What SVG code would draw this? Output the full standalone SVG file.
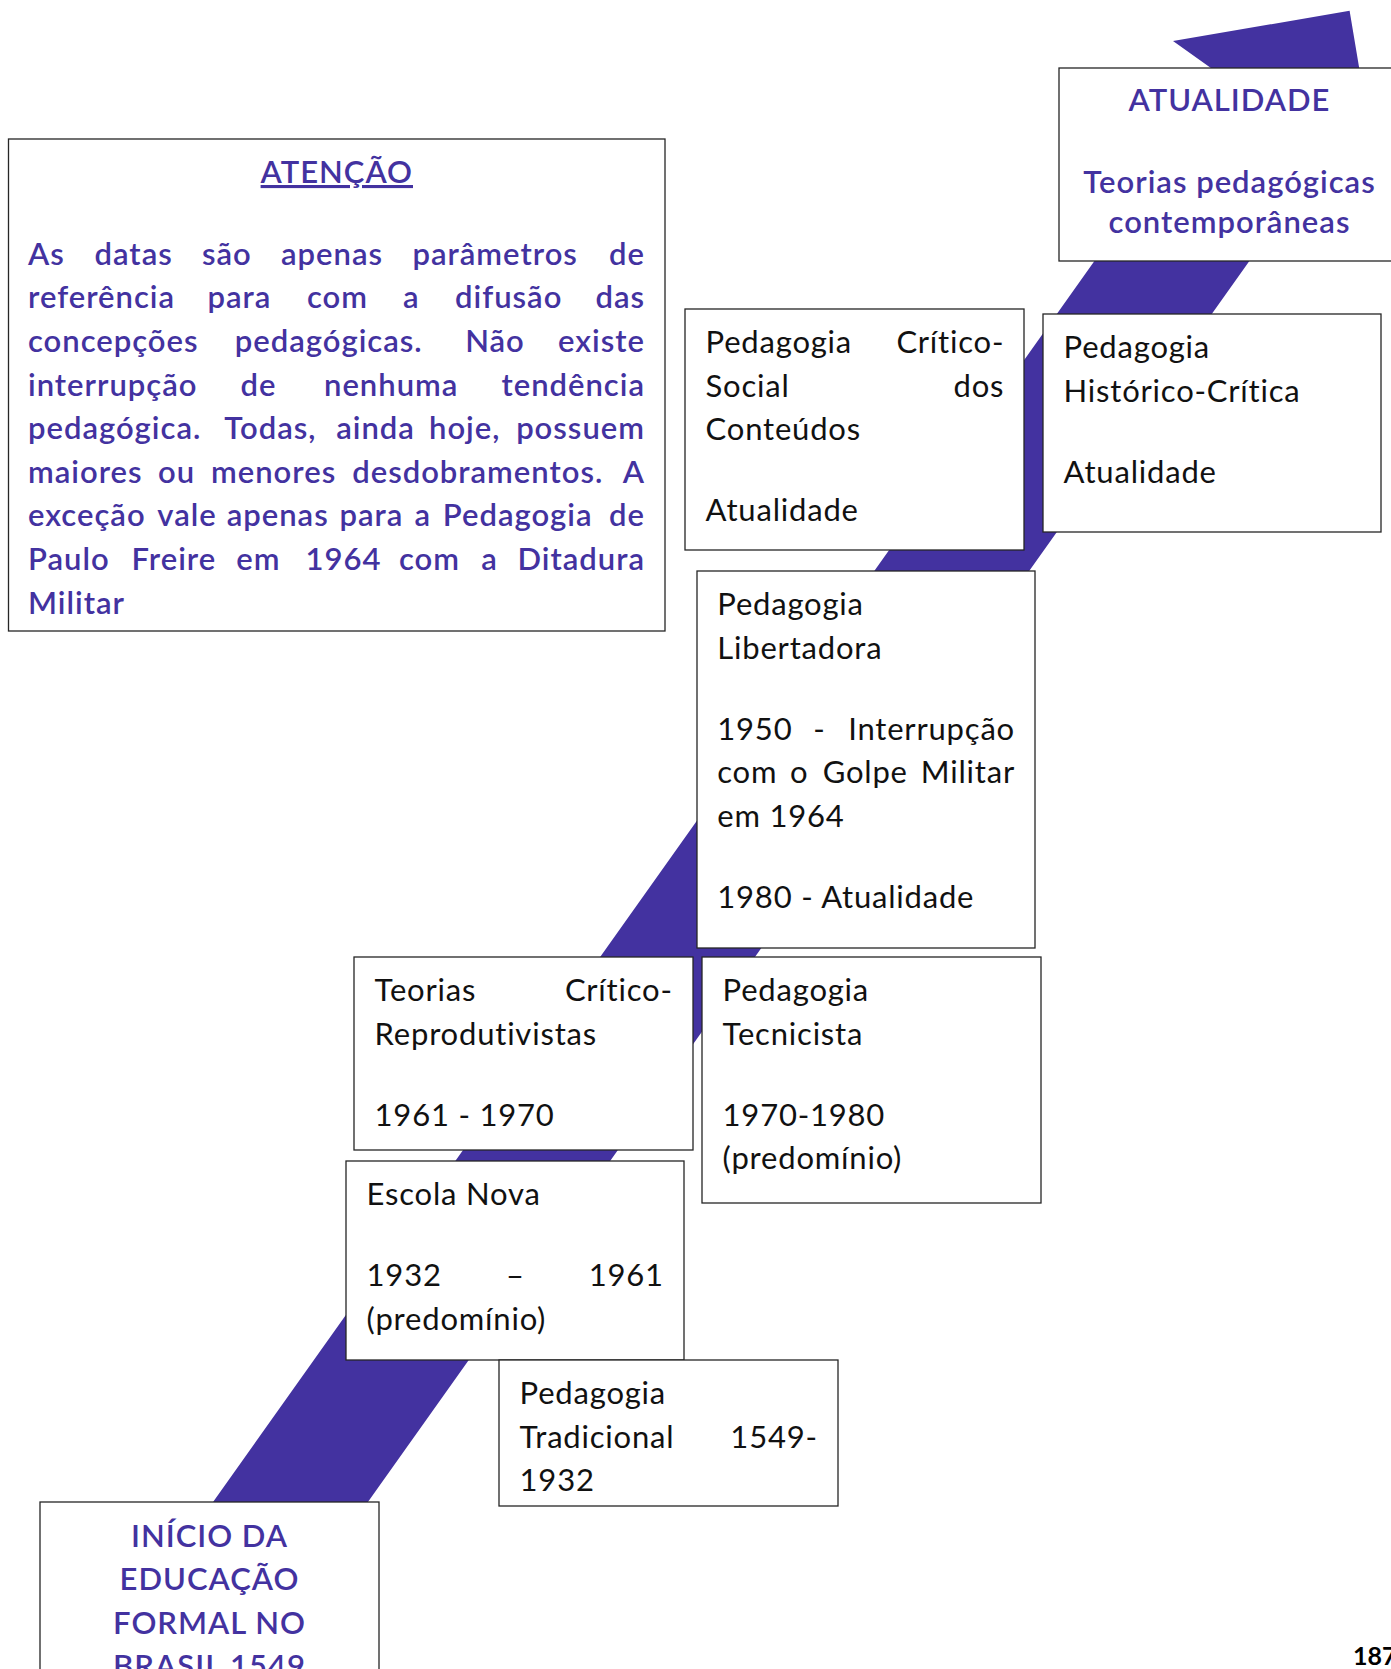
<svg xmlns="http://www.w3.org/2000/svg" width="1391" height="1669" viewBox="0 0 1391 1669">
<style>
.box{fill:#fff;stroke:#262626;stroke-width:1.3}
.t{font-family:Lato,"Noto Sans",sans-serif;font-size:31px;letter-spacing:0.8px;fill:#111;font-variant-ligatures:none}
.p{font-family:Lato,"Noto Sans",sans-serif;font-size:31px;letter-spacing:1px;fill:#4332a0;font-weight:600;font-variant-ligatures:none}
.c{text-anchor:middle}
.e{text-anchor:end}
</style>
<rect width="1391" height="1669" fill="#fff"/>
<g id="connectors">
<polygon id="timeline-arrow" fill="#4332a0" points="76.7,1694 1224.6,77.7 1173,41 1349.6,10.8 1379.2,187.6 1327.6,150.9 179.6,1767.1"/>
</g>
<g id="atencao">
<rect class="box" x="8.5" y="139" width="656.5" height="492"/>
<text class="p c" x="336.8" y="183" text-decoration="underline">ATENÇÃO</text>
<text class="p" y="264.8"><tspan x="28">As</tspan><tspan x="94.5">datas</tspan><tspan x="202">são</tspan><tspan x="281">apenas</tspan><tspan x="412.5">parâmetros</tspan></text>
<text class="p e" x="645" y="264.8">de</text>
<text class="p" y="308.4"><tspan x="28">referência</tspan><tspan x="207.5">para</tspan><tspan x="307">com</tspan><tspan x="403">a</tspan><tspan x="455">difusão</tspan></text>
<text class="p e" x="645" y="308.4">das</text>
<text class="p" y="352"><tspan x="28">concepções</tspan><tspan x="234.8">pedagógicas.</tspan><tspan x="465.2">Não</tspan></text>
<text class="p e" x="645" y="352">existe</text>
<text class="p" y="395.6"><tspan x="28">interrupção</tspan><tspan x="240.5">de</tspan><tspan x="324">nenhuma</tspan></text>
<text class="p e" x="645" y="395.6">tendência</text>
<text class="p" y="439.2"><tspan x="28">pedagógica.</tspan><tspan x="224.3">Todas,</tspan><tspan x="336.2">ainda</tspan><tspan x="429">hoje,</tspan></text>
<text class="p e" x="645" y="439.2">possuem</text>
<text class="p" y="482.8"><tspan x="28">maiores</tspan><tspan x="158">ou</tspan><tspan x="211">menores</tspan><tspan x="352.2">desdobramentos.</tspan></text>
<text class="p e" x="645" y="482.8">A</text>
<text class="p" y="526.4"><tspan x="28">exceção</tspan><tspan x="157.3">vale</tspan><tspan x="226.7">apenas</tspan><tspan x="339.5">para</tspan><tspan x="414.6">a</tspan><tspan x="442.8">Pedagogia</tspan></text>
<text class="p e" x="645" y="526.4">de</text>
<text class="p" y="570"><tspan x="28">Paulo</tspan><tspan x="131.6">Freire</tspan><tspan x="236.3">em</tspan><tspan x="305.5">1964</tspan><tspan x="399">com</tspan><tspan x="481.3">a</tspan></text>
<text class="p e" x="645" y="570">Ditadura</text>
<text class="p" x="28" y="613.6">Militar</text>
</g>
<g id="atualidade">
<rect class="box" x="1059" y="68" width="345" height="193"/>
<text class="p c" x="1229.5" y="111">ATUALIDADE</text>
<text class="p c" x="1229.5" y="193.3">Teorias pedagógicas</text>
<text class="p c" x="1229.5" y="233.3">contemporâneas</text>
</g>
<g id="critico-social">
<rect class="box" x="685" y="309" width="339" height="241"/>
<text class="t" x="705.6" y="353">Pedagogia</text>
<text class="t e" x="1004.3" y="353">Crítico-</text>
<text class="t" x="705.6" y="396.5">Social</text>
<text class="t e" x="1004.3" y="396.5">dos</text>
<text class="t" x="705.6" y="440">Conteúdos</text>
<text class="t" x="705.6" y="521">Atualidade</text>
</g>
<g id="historico-critica">
<rect class="box" x="1043" y="314" width="338" height="218"/>
<text class="t" x="1063.6" y="358">Pedagogia</text>
<text class="t" x="1063.6" y="401.5">Histórico-Crítica</text>
<text class="t" x="1063.6" y="482.5">Atualidade</text>
</g>
<g id="libertadora">
<rect class="box" x="697" y="571" width="338" height="377"/>
<text class="t" x="717.3" y="615">Pedagogia</text>
<text class="t" x="717.3" y="659">Libertadora</text>
<text class="t" y="740"><tspan x="717.3">1950</tspan><tspan x="813.3">-</tspan></text>
<text class="t e" x="1015" y="740">Interrupção</text>
<text class="t" y="783.3"><tspan x="717.3">com</tspan><tspan x="790">o</tspan><tspan x="822.7">Golpe</tspan></text>
<text class="t e" x="1015" y="783.3">Militar</text>
<text class="t" x="717.3" y="826.7">em 1964</text>
<text class="t" x="717.3" y="907.7">1980 - Atualidade</text>
</g>
<g id="critico-reprodutivistas">
<rect class="box" x="354" y="957" width="339" height="193"/>
<text class="t" x="374.6" y="1001">Teorias</text>
<text class="t e" x="672.8" y="1001">Crítico-</text>
<text class="t" x="374.6" y="1044.5">Reprodutivistas</text>
<text class="t" x="374.6" y="1125.5">1961 - 1970</text>
</g>
<g id="tecnicista">
<rect class="box" x="702" y="957" width="339" height="246"/>
<text class="t" x="722.6" y="1001">Pedagogia</text>
<text class="t" x="722.6" y="1044.5">Tecnicista</text>
<text class="t" x="722.6" y="1125.5">1970-1980</text>
<text class="t" x="722.6" y="1169">(predomínio)</text>
</g>
<g id="escola-nova">
<rect class="box" x="346" y="1161" width="338" height="199"/>
<text class="t" x="366.6" y="1205">Escola Nova</text>
<text class="t" x="366.6" y="1286">1932</text>
<text class="t c" x="515.5" y="1286">–</text>
<text class="t e" x="663.8" y="1286">1961</text>
<text class="t" x="366.6" y="1329.5">(predomínio)</text>
</g>
<g id="tradicional">
<rect class="box" x="499" y="1360" width="339" height="146"/>
<text class="t" x="519.6" y="1404">Pedagogia</text>
<text class="t" x="519.6" y="1447.5">Tradicional</text>
<text class="t e" x="817.8" y="1447.5">1549-</text>
<text class="t" x="519.6" y="1491">1932</text>
</g>
<g id="inicio">
<rect class="box" x="40" y="1502" width="339" height="200"/>
<text class="p c" x="209.5" y="1546.7">INÍCIO DA</text>
<text class="p c" x="209.5" y="1590">EDUCAÇÃO</text>
<text class="p c" x="209.5" y="1633.5">FORMAL NO</text>
<text class="p c" x="209.5" y="1677">BRASIL 1549</text>
</g>
<text x="1353" y="1665" font-family="Lato,'Noto Sans',sans-serif" font-size="25" font-weight="bold" fill="#000">187</text>
</svg>
